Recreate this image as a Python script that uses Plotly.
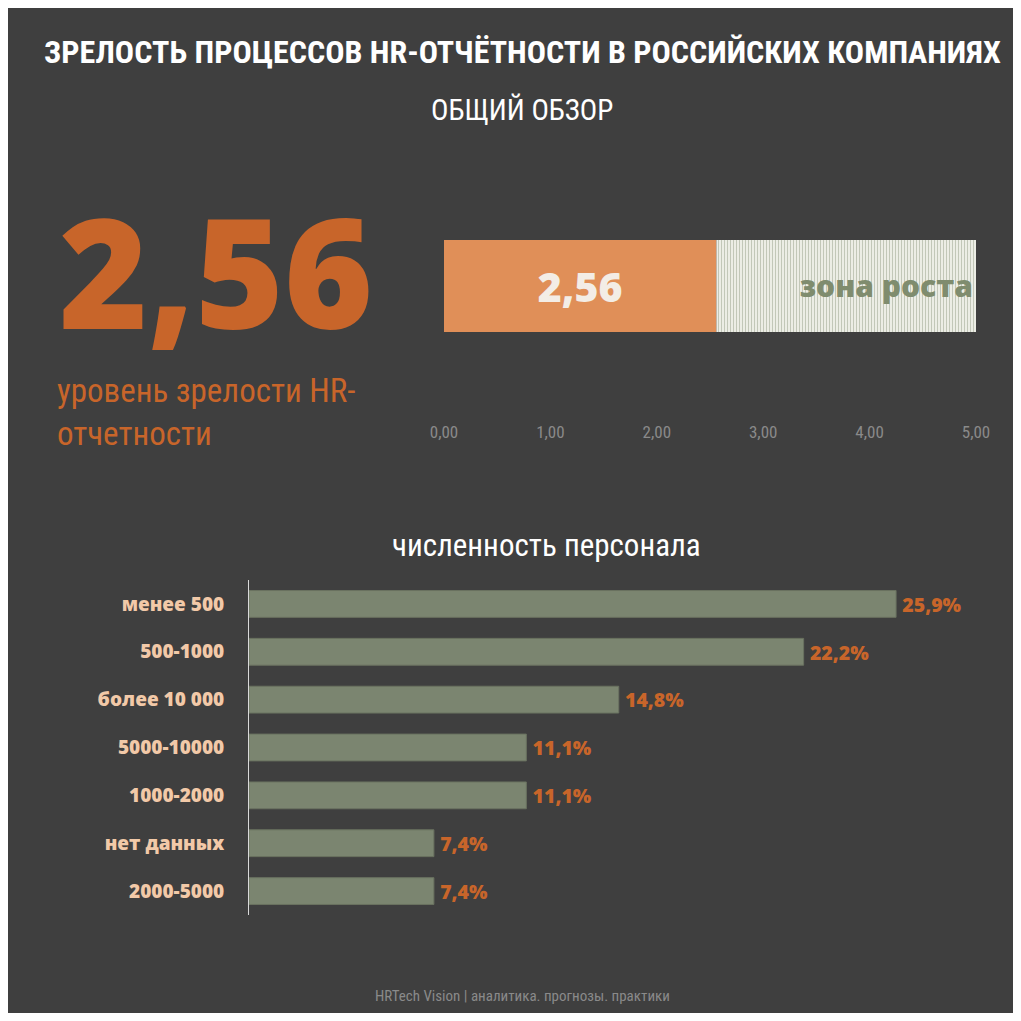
import plotly.graph_objects as go

score = 2.56
score_max = 5.0
tick_vals = [0, 1, 2, 3, 4, 5]
tick_text = ["0,00", "1,00", "2,00", "3,00", "4,00", "5,00"]

categories = ["менее 500", "500-1000", "более 10 000", "5000-10000", "1000-2000", "нет данных", "2000-5000"]
values = [25.9, 22.2, 14.8, 11.1, 11.1, 7.4, 7.4]
labels = ["25,9%", "22,2%", "14,8%", "11,1%", "11,1%", "7,4%", "7,4%"]

BG = "#3f3f3f"
ORANGE = "#c8652a"
NARROW = "Liberation Sans Narrow, Roboto Condensed, Roboto, sans-serif"
BOLD = "Open Sans, Verdana, sans-serif"

OFF = 8
S = 1021 - 2 * OFF
def px(x): return (x - OFF) / S
def py(y): return 1 - (y - OFF) / S

fig = go.Figure()
fig.add_trace(go.Bar(x=[score], y=[0], orientation="h", width=1,
                     marker=dict(color="#e08f58", line=dict(width=0)),
                     text=["2,56"], textposition="inside", insidetextanchor="middle",
                     textfont=dict(family=BOLD, size=41, color="#f3ede6", weight=800),
                     xaxis="x", yaxis="y", hoverinfo="skip"))
fig.add_trace(go.Bar(x=[score_max - score], y=[0], base=[score], orientation="h", width=1,
                     marker=dict(color="#ffffff", line=dict(width=0),
                                 pattern=dict(shape="|", fgcolor="#8f9a82", bgcolor="#f4f4ee", size=3, solidity=0.45)),
                     text=["зона роста"], textposition="inside", insidetextanchor="end",
                     textfont=dict(family=BOLD, size=30, color="#7f8c6e", weight=800),
                     xaxis="x", yaxis="y", hoverinfo="skip"))
fig.add_trace(go.Bar(x=values, y=categories, orientation="h",
                     marker=dict(color="#7b8570", line=dict(color="#6a7260", width=1)),
                     text=labels, texttemplate="\u2009%{text}", textposition="outside", cliponaxis=False,
                     textfont=dict(family=BOLD, size=24, color=ORANGE, weight=800),
                     xaxis="x2", yaxis="y2", hoverinfo="skip"))

fig.update_layout(
    width=S, height=S, paper_bgcolor=BG, plot_bgcolor=BG,
    margin=dict(l=0, r=0, t=0, b=0, pad=0), showlegend=False, barmode="overlay", bargap=0.44,
    xaxis=dict(domain=[px(444), px(976)], range=[0, 5], tickvals=tick_vals, ticktext=tick_text,
               anchor="y", showgrid=False, zeroline=False, showline=False, automargin=False,
               tickfont=dict(family=NARROW, size=17, color="#8a8a8a")),
    yaxis=dict(domain=[py(420), py(240)], range=[-1.457, 0.5], visible=False, anchor="x", automargin=False),
    xaxis2=dict(domain=[px(249), px(1000)], range=[0, 30.06], visible=False, anchor="y2", automargin=False),
    yaxis2=dict(domain=[py(915), py(580)], autorange="reversed", showgrid=False, zeroline=False,
                anchor="x2", showline=True, linecolor="#d9d9d9", linewidth=1, ticks="", ticklabelstandoff=20,
                automargin=False, tickfont=dict(family=BOLD, size=19, color="#f2c9a8", weight=800)),
    annotations=[
        dict(text="<b>ЗРЕЛОСТЬ ПРОЦЕССОВ HR-ОТЧЁТНОСТИ В РОССИЙСКИХ КОМПАНИЯХ</b>", x=px(522), y=py(52),
             xanchor="center", yanchor="middle", xref="paper", yref="paper", showarrow=False,
             font=dict(family=NARROW, size=32, color="#ffffff")),
        dict(text="ОБЩИЙ ОБЗОР", x=px(522), y=py(110), xanchor="center", yanchor="middle",
             xref="paper", yref="paper", showarrow=False,
             font=dict(family=NARROW, size=29, color="#ffffff")),
        dict(text="2,56", x=px(216), y=py(270), xanchor="center", yanchor="middle",
             xref="paper", yref="paper", showarrow=False,
             font=dict(family=BOLD, size=152, color=ORANGE, weight=800)),
        dict(text="уровень зрелости HR-<br>отчетности", x=px(55), y=py(412), yanchor="middle",
             xref="paper", yref="paper", xanchor="left", align="left", showarrow=False,
             font=dict(family=NARROW, size=33, color=ORANGE)),
        dict(text="численность персонала", x=px(546), y=py(545), xanchor="center", yanchor="middle",
             xref="paper", yref="paper", showarrow=False, font=dict(family=NARROW, size=31, color="#ffffff")),
        dict(text="HRTech Vision | аналитика. прогнозы. практики", x=px(522), y=py(996),
             xanchor="center", yanchor="middle",
             xref="paper", yref="paper", showarrow=False, font=dict(family=NARROW, size=15, color="#8a8a8a")),
    ],
)
fig.write_html("out.html")
